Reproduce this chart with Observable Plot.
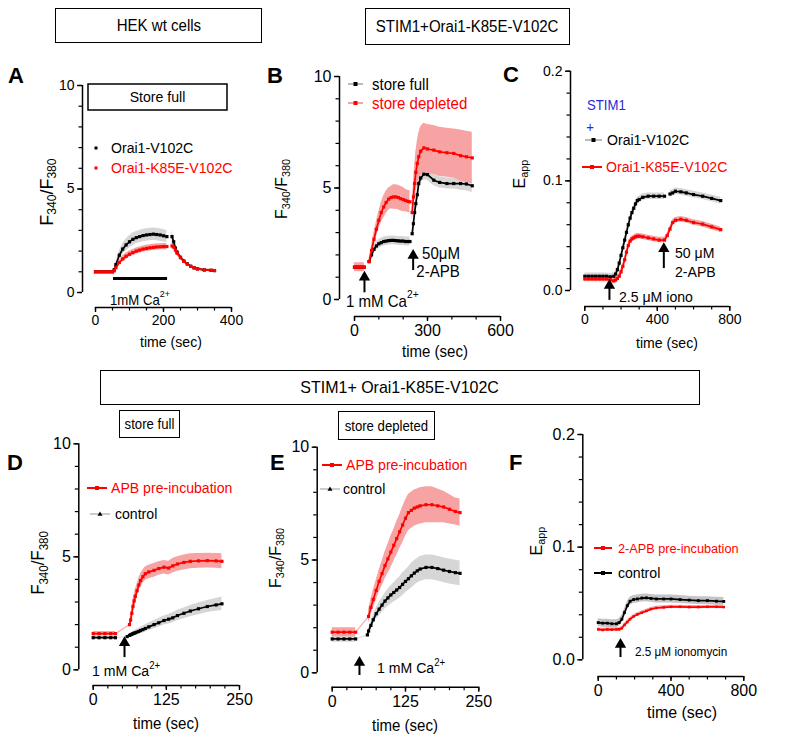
<!DOCTYPE html>
<html><head><meta charset="utf-8">
<script src="https://cdn.jsdelivr.net/npm/d3@7"></script>
<script src="https://cdn.jsdelivr.net/npm/@observablehq/plot@0.6"></script>
<style>
body{margin:0;background:#fff}
#page{position:relative;width:800px;height:743px;overflow:hidden;background:#fff}
#page svg{position:absolute;left:0;top:0}
.box{position:absolute;border:1.5px solid #000;box-sizing:border-box;display:flex;align-items:center;justify-content:center;background:#fff;font-family:'Liberation Sans',Arial,sans-serif;color:#000;white-space:nowrap}
</style></head>
<body><div id="page"></div>
<script>
// ================= DATA =================
// Panel A (HEK wt cells, store full): F340/F380 vs time (sec)
const aTime = [0,10,20,30,40,50,55,60,70,80,90,100,110,120,130,140,150,160,170,180,190,200,210,218,225,230,235,240,250,260,270,280,290,300,320,340,350];
const aV102C = [1.0,1.0,1.0,1.0,1.0,1.0,1.1,1.35,1.8,2.1,2.3,2.45,2.57,2.65,2.7,2.75,2.78,2.8,2.82,2.8,2.78,2.74,2.7,null,2.7,2.45,2.15,1.95,1.7,1.52,1.38,1.27,1.19,1.14,1.09,1.07,1.06];
const aV102CErr = [0.05,0.05,0.05,0.05,0.05,0.05,0.06,0.1,0.2,0.25,0.28,0.3,0.3,0.3,0.3,0.3,0.3,0.3,0.3,0.3,0.3,0.3,0.3,null,0.3,0.25,0.2,0.15,0.12,0.1,0.08,0.07,0.06,0.05,0.05,0.05,0.05];
const aK85E = [1.0,1.0,1.0,1.0,1.0,1.0,1.05,1.2,1.45,1.62,1.75,1.85,1.93,2.0,2.05,2.1,2.13,2.16,2.18,2.2,2.21,2.22,2.22,null,2.25,2.2,2.05,1.9,1.68,1.5,1.37,1.26,1.19,1.14,1.09,1.07,1.06];
const aK85EErr = [0.05,0.05,0.05,0.05,0.05,0.05,0.05,0.08,0.12,0.15,0.15,0.15,0.15,0.15,0.15,0.15,0.15,0.15,0.15,0.15,0.15,0.15,0.15,null,0.15,0.12,0.1,0.1,0.08,0.07,0.06,0.05,0.05,0.05,0.05,0.05,0.05];

// Panel B (STIM1+Orai1-K85E-V102C): store full vs store depleted
const bTime = [0,10,20,30,40,50,60,70,80,90,100,110,120,130,140,150,160,170,180,190,200,210,220,228,233,237,242,247,252,258,264,272,285,300,326,350,380,408,436,460,484];
const bFull = [1.45,1.45,1.45,1.45,1.45,null,1.7,2.0,2.25,2.4,2.5,2.55,2.6,2.62,2.64,2.65,2.65,2.64,2.63,2.62,2.62,2.6,2.6,2.6,null,2.95,3.4,3.9,4.3,4.7,5.2,5.45,5.62,5.6,5.35,5.25,5.2,5.2,5.2,5.18,5.1];
const bFullErr = [0.15,0.15,0.15,0.15,0.15,null,0.05,0.1,0.15,0.2,0.2,0.2,0.2,0.2,0.2,0.2,0.2,0.2,0.2,0.2,0.2,0.2,0.2,0.2,null,0.15,0.2,0.25,0.25,0.25,0.25,0.25,0.25,0.25,0.25,0.25,0.25,0.25,0.3,0.3,0.3];
const bDepleted = [1.45,1.45,1.45,1.45,1.45,null,1.7,2.2,2.7,3.15,3.55,3.9,4.15,4.35,4.5,4.57,4.6,4.6,4.57,4.52,4.48,4.44,4.4,4.38,null,3.9,4.6,5.2,5.7,6.1,6.4,6.65,6.8,6.75,6.7,6.62,6.58,6.55,6.45,6.4,6.35];
const bDepletedErr = [0.2,0.2,0.2,0.2,0.2,null,0.1,0.2,0.3,0.35,0.4,0.45,0.5,0.5,0.5,0.5,0.55,0.55,0.55,0.55,0.55,0.5,0.5,0.5,null,0.4,0.6,0.8,0.9,1.0,1.05,1.1,1.1,1.1,1.1,1.1,1.1,1.1,1.15,1.15,1.15];

// Panel C: Eapp vs time
const cTime = [0,20,40,60,80,100,120,140,160,170,180,190,200,210,220,230,240,250,260,270,280,290,300,320,350,380,410,440,455,470,485,500,530,560,600,650,700,750];
const cV102C = [0.013,0.013,0.013,0.013,0.013,0.013,0.013,0.0125,0.013,0.015,0.019,0.025,0.032,0.039,0.046,0.053,0.06,0.066,0.071,0.075,0.079,0.082,0.083,0.085,0.086,0.086,0.086,0.086,null,0.088,0.089,0.0905,0.09,0.089,0.0875,0.086,0.084,0.082];
const cV102CErr = [0.003,0.003,0.003,0.003,0.003,0.003,0.003,0.003,0.003,0.003,0.003,0.003,0.003,0.003,0.003,0.003,0.003,0.003,0.003,0.003,0.003,0.003,0.003,0.003,0.003,0.003,0.003,0.003,null,0.003,0.003,0.003,0.003,0.003,0.003,0.003,0.003,0.003];
const cK85E = [0.0105,0.0105,0.0105,0.0105,0.0105,0.0105,0.0105,0.0098,0.0088,0.0095,0.011,0.013,0.017,0.022,0.028,0.035,0.041,0.045,0.047,0.048,0.049,0.0495,0.0495,0.049,0.048,0.047,0.046,0.046,0.05,0.056,0.062,0.064,0.065,0.064,0.062,0.0605,0.058,0.0555];
const cK85EErr = [0.0025,0.0025,0.0025,0.0025,0.0025,0.0025,0.0025,0.0025,0.0025,0.0025,0.0025,0.0025,0.0025,0.0025,0.0025,0.0025,0.0025,0.0025,0.0025,0.0025,0.0025,0.0025,0.0025,0.0025,0.0025,0.0025,0.0025,0.0025,0.0025,0.0025,0.0025,0.0025,0.0025,0.0025,0.0025,0.0025,0.0025,0.0025];

// Panel D (store full): APB pre-incubation vs control
const dTime = [0,10,20,30,38,48,58,62,64,66,68,70,72,75,78,81,85,89,95,104,112,121,129,136,144,155,166,180,195,210,220];
const dAPB = [1.6,1.6,1.6,1.6,1.6,null,null,2.0,2.2,2.5,2.8,3.05,3.25,3.5,3.75,3.95,4.12,4.25,4.33,4.4,4.48,4.54,4.5,4.6,4.68,4.75,4.8,4.82,4.83,4.82,4.8];
const dAPBErr = [0.1,0.1,0.1,0.1,0.1,null,null,0.15,0.2,0.25,0.3,0.3,0.3,0.3,0.3,0.3,0.3,0.3,0.3,0.3,0.3,0.3,0.3,0.32,0.32,0.33,0.33,0.33,0.33,0.33,0.33];
const dControl = [1.42,1.42,1.42,1.42,1.42,null,1.47,1.52,1.55,1.57,1.6,1.62,1.64,1.67,1.7,1.74,1.78,1.83,1.9,2.0,2.08,2.18,2.24,2.3,2.4,2.5,2.6,2.7,2.8,2.87,2.92];
const dControlErr = [0.05,0.05,0.05,0.05,0.05,null,0.05,0.06,0.07,0.08,0.09,0.1,0.11,0.12,0.13,0.14,0.15,0.16,0.17,0.18,0.19,0.2,0.21,0.22,0.23,0.24,0.25,0.26,0.27,0.28,0.3];

// Panel E (store depleted): APB pre-incubation vs control
const eTime = [0,10,20,30,40,45,55,60,62,66,70,75,80,85,90,95,100,105,110,115,120,125,130,135,140,145,150,160,170,180,190,200,210,218];
const eAPB = [1.8,1.8,1.8,1.8,1.8,null,null,null,2.5,2.9,3.25,3.65,4.05,4.4,4.75,5.05,5.35,5.65,5.95,6.25,6.55,6.85,7.1,7.2,7.3,7.35,7.4,7.45,7.45,7.4,7.35,7.25,7.15,7.1];
const eAPBErr = [0.2,0.2,0.2,0.2,0.2,null,null,null,0.3,0.35,0.4,0.45,0.5,0.55,0.6,0.65,0.7,0.7,0.75,0.75,0.8,0.8,0.8,0.8,0.8,0.8,0.8,0.8,0.8,0.75,0.7,0.65,0.6,0.6];
const eControl = [1.5,1.5,1.5,1.5,1.5,null,null,1.68,1.85,2.1,2.35,2.62,2.82,3.0,3.18,3.32,3.45,3.56,3.67,3.78,3.92,4.05,4.17,4.3,4.42,4.52,4.6,4.67,4.67,4.62,4.55,4.49,4.44,4.41];
const eControlErr = [0.15,0.15,0.15,0.15,0.15,null,null,0.1,0.12,0.15,0.2,0.25,0.3,0.32,0.35,0.38,0.4,0.42,0.45,0.47,0.5,0.5,0.52,0.55,0.55,0.55,0.55,0.55,0.55,0.55,0.55,0.55,0.55,0.55];

// Panel F: Eapp, 2-APB pre-incubation vs control
const fTime = [0,25,50,75,100,115,130,145,160,175,195,215,240,265,290,320,360,400,450,500,550,600,650,690];
const fControl = [0.033,0.0325,0.0325,0.032,0.032,0.033,0.036,0.042,0.048,0.052,0.0535,0.054,0.0548,0.055,0.0545,0.054,0.054,0.054,0.0535,0.053,0.0525,0.0525,0.052,0.0518];
const fControlErr = [0.0035,0.0035,0.0035,0.0035,0.0035,0.0035,0.0035,0.0035,0.0035,0.0035,0.0035,0.0035,0.0035,0.0035,0.0035,0.0035,0.0035,0.0035,0.0035,0.0035,0.0035,0.0035,0.0035,0.0035];
const fAPB = [0.027,0.0265,0.027,0.0268,0.027,0.027,0.028,0.031,0.0335,0.036,0.0385,0.0402,0.0418,0.0433,0.045,0.046,0.0465,0.047,0.047,0.0468,0.0468,0.047,0.047,0.0468];
const fAPBErr = [0.0015,0.0015,0.0015,0.0015,0.0015,0.0015,0.0015,0.0015,0.0015,0.0015,0.0015,0.0015,0.0015,0.0015,0.0015,0.0015,0.0015,0.0015,0.0015,0.0015,0.0015,0.0015,0.0015,0.0015];

// Tick values
const ratioMajor = [0,5,10], ratioMinor = [0,1,2,3,4,5,6,7,8,9,10];
const eMajor = [0,0.1,0.2], eMinor = [0,0.02,0.04,0.06,0.08,0.1,0.12,0.14,0.16,0.18,0.2];
const aXMajor = [0,200,400], aXMinor = [0,50,100,150,200,250,300,350,400];
const bXMajor = [0,300,600], bXMinor = [0,100,200,300,400,500,600];
const cXMajor = [0,400,800], cXMinor = [0,100,200,300,400,500,600,700,800];
const deXMajor = [0,125,250], deXMinor = [0,25,50,75,100,125,150,175,200,225,250];

// Stimulus arrows (time, from, to)
const bArrows = [{t:41,y1:0.3,y2:1.0},{t:241,y1:1.3,y2:1.97}];
const cArrows = [{t:136,y1:-0.009,y2:0.0046},{t:436,y1:0.02,y2:0.038}];
const dArrows = [{t:53.5,y1:0.54,y2:1.2}];
const eArrows = [{t:46.5,y1:-0.12,y2:0.46}];
const fArrows = [{t:122.5,y1:0.002,y2:0.0136}];
const aBar = [{x1:53,x2:212,y:0.68}];

// ================= DRAWING =================
const FONT = "'Liberation Sans',Arial,sans-serif";
const BOLD = "'Liberation Sans',Arial,sans-serif";
const SX = 0.94; // slight horizontal condensation like the reference lettering
const RED = "#ff0000", PINK = "#f7a3a3", GREY = "#d6d6d6", BLUE = "#2a2ad0";
const page = document.getElementById("page");

function rows(time, v, e) {
  return time.map((t, i) => {
    const ok = v[i] != null;
    return {t, v: ok ? v[i] : NaN, lo: ok ? v[i] - e[i] : NaN, hi: ok ? v[i] + e[i] : NaN};
  });
}

function rich(svg, x, y, parts, o = {}) {
  const size = o.size || 15;
  const sx = o.sx ?? SX;
  const t = d3.select(svg).append("text").attr("x", x).attr("y", y)
    .attr("font-size", size).attr("fill", o.color || "#000")
    .attr("text-anchor", o.anchor || "start").attr("dominant-baseline", "central")
    .attr("font-family", o.font || FONT).attr("font-weight", o.weight || "normal");
  const tr = o.rotate
    ? `translate(${x},${y}) rotate(${o.rotate}) scale(${sx},1) translate(${-x},${-y})`
    : `translate(${x},${y}) scale(${sx},1) translate(${-x},${-y})`;
  t.attr("transform", tr);
  let shift = 0;
  for (const p of parts) {
    const [s, kind] = Array.isArray(p) ? p : [p, null];
    const target = kind === "sup" ? -0.42 : kind === "sub" ? 0.3 : 0;
    const sp = t.append("tspan").text(s);
    if (kind) sp.attr("font-size", size * 0.68);
    const dy = (target - shift) * size;
    if (dy) sp.attr("dy", dy);
    shift = target;
  }
  return t;
}

function legendItem(svg, o) {
  const g = d3.select(svg);
  if (o.line) g.append("line").attr("x1", o.x1).attr("x2", o.x2).attr("y1", o.y).attr("y2", o.y)
    .attr("stroke", o.line).attr("stroke-width", 2);
  const cx = (o.x1 + o.x2) / 2;
  if (o.mark === "tri") {
    g.append("path").attr("d", `M${cx},${o.y-2.5}L${cx+2.5},${o.y+1.8}L${cx-2.5},${o.y+1.8}Z`).attr("fill", o.color);
  } else {
    g.append("rect").attr("x", cx - 2).attr("y", o.y - 2).attr("width", 4).attr("height", 4).attr("fill", o.color);
  }
  rich(svg, o.tx, o.y, [o.label], {size: o.size || 15, color: o.text || o.color});
}

function panel(c) {
  const marks = [];
  c.series.forEach(s => marks.push(Plot.areaY(s.rows, {x: "t", y1: "lo", y2: "hi", fill: s.band})));
  c.series.forEach(s => {
    if (s.connector) marks.push(Plot.line(s.rows.filter(d => !isNaN(d.v)), {x: "t", y: "v", stroke: s.connector, strokeWidth: 1.3}));
    marks.push(Plot.line(s.rows, {x: "t", y: "v", stroke: s.color, strokeWidth: s.lw || 1.7}));
    marks.push(Plot.dot(s.rows, {x: "t", y: "v", fill: s.color, r: s.r || 1.8, symbol: s.symbol || "square"}));
  });
  const fs = c.tickFont || 15;
  marks.push(
    Plot.axisY({ticks: c.yMajor, tickSize: 5, tickPadding: 3, tickFormat: c.yFmt || (d => d), fontSize: fs, label: null, strokeWidth: 1.4}),
    Plot.axisY({ticks: c.yMinor, tickSize: 3.5, tickFormat: () => "", label: null, strokeWidth: 1.2}),
    Plot.axisX({ticks: c.xMajor, tickSize: 5, tickPadding: 3, tickFormat: d => d, fontSize: fs, label: null, strokeWidth: 1.4}),
    Plot.axisX({ticks: c.xMinor, tickSize: 3.5, tickFormat: () => "", label: null, strokeWidth: 1.2}),
    Plot.ruleX([c.xDomain[0]], {y1: c.yDomain[0], y2: c.yDomain[1], dx: c.ax - c.x0, strokeWidth: 1.5}),
    Plot.ruleY([c.yDomain[0]], {x1: c.xDomain[0], x2: c.xDomain[1], dy: c.xAxisY - c.y0, strokeWidth: 1.5})
  );
  for (const a of c.arrows || []) {
    marks.push(Plot.ruleX([a], {x: "t", y1: "y1", y2: "y2", strokeWidth: 2, stroke: "#000"}));
    marks.push(Plot.dot([a], {x: "t", y: "y2", symbol: "triangle", r: 4.2, fill: "#000"}));
  }
  if (c.extra) marks.push(...c.extra);
  const svg = Plot.plot({
    width: 800, height: 743,
    marginLeft: c.ax, marginRight: 800 - c.x1, marginTop: c.yTop, marginBottom: 743 - c.xAxisY,
    x: {domain: c.xDomain, range: [c.x0, c.x1]},
    y: {domain: c.yDomain, range: [c.y0, c.yTop]},
    style: {background: "transparent", fontFamily: FONT, color: "#000", overflow: "visible"},
    marks
  });
  page.appendChild(svg);
  return svg;
}

const fmt1 = d => d3.format(".1f")(d);

// ---- Panel A ----
const svgA = panel({
  ax: 82, x0: 95, x1: 231, yTop: 85, y0: 292, xAxisY: 307,
  xDomain: [0, 400], yDomain: [0, 10], xMajor: aXMajor, xMinor: aXMinor, yMajor: ratioMajor, yMinor: ratioMinor, tickFont: 14,
  series: [
    {rows: rows(aTime, aV102C, aV102CErr), color: "#000", band: GREY},
    {rows: rows(aTime, aK85E, aK85EErr), color: RED, band: PINK}
  ],
  extra: [Plot.ruleY(aBar, {y: "y", x1: "x1", x2: "x2", strokeWidth: 3, stroke: "#000"})]
});
d3.select(svgA).append("rect").attr("x", 88).attr("y", 84).attr("width", 139).attr("height", 26).attr("fill", "#fff").attr("stroke", "#000").attr("stroke-width", 1.5);
rich(svgA, 157.5, 97, ["Store full"], {size: 15, anchor: "middle"});
d3.select(svgA).append("rect").attr("x", 94.5).attr("y", 146.5).attr("width", 3).attr("height", 3).attr("fill", "#000");
rich(svgA, 111, 148, ["Orai1-V102C"], {size: 15});
d3.select(svgA).append("rect").attr("x", 94.5).attr("y", 166.5).attr("width", 3).attr("height", 3).attr("fill", RED);
rich(svgA, 111, 168, ["Orai1-K85E-V102C"], {size: 15, color: RED});
rich(svgA, 140, 300, ["1mM Ca", ["2+", "sup"]], {size: 14, anchor: "middle"});
rich(svgA, 46, 192, ["F", ["340", "sub"], "/F", ["380", "sub"]], {size: 19, anchor: "middle", rotate: -90});
rich(svgA, 171, 342, ["time (sec)"], {size: 15, anchor: "middle"});
rich(svgA, 8, 75, ["A"], {size: 22, weight: "bold", font: BOLD, sx: 1});

// ---- Panel B ----
const svgB = panel({
  ax: 339, x0: 354, x1: 500, yTop: 76, y0: 299, xAxisY: 316,
  xDomain: [0, 600], yDomain: [0, 10], xMajor: bXMajor, xMinor: bXMinor, yMajor: ratioMajor, yMinor: ratioMinor, tickFont: 16,
  series: [
    {rows: rows(bTime, bFull, bFullErr), color: "#000", band: GREY},
    {rows: rows(bTime, bDepleted, bDepletedErr), color: RED, band: PINK}
  ],
  arrows: bArrows
});
legendItem(svgB, {x1: 348, x2: 363, y: 84, line: "#bbb", color: "#000", label: "store full", tx: 372, size: 16});
legendItem(svgB, {x1: 348, x2: 363, y: 103, line: PINK, color: RED, label: "store depleted", tx: 372, size: 16});
rich(svgB, 346, 301, ["1 mM Ca", ["2+", "sup"]], {size: 16});
rich(svgB, 441, 253, ["50\u03bcM"], {size: 16, anchor: "middle"});
rich(svgB, 438, 271, ["2-APB"], {size: 16, anchor: "middle"});
rich(svgB, 281, 189, ["F", ["340", "sub"], "/F", ["380", "sub"]], {size: 17, anchor: "middle", rotate: -90});
rich(svgB, 435, 351, ["time (sec)"], {size: 16, anchor: "middle"});
rich(svgB, 267, 75, ["B"], {size: 22, weight: "bold", font: BOLD, sx: 1});

// ---- Panel C ----
const svgC = panel({
  ax: 570, x0: 584.3, x1: 729.3, yTop: 70.7, y0: 290, xAxisY: 306,
  xDomain: [0, 800], yDomain: [0, 0.2], xMajor: cXMajor, xMinor: cXMinor, yMajor: eMajor, yMinor: eMinor, yFmt: fmt1, tickFont: 14,
  series: [
    {rows: rows(cTime, cV102C, cV102CErr), color: "#000", band: GREY},
    {rows: rows(cTime, cK85E, cK85EErr), color: RED, band: PINK}
  ],
  arrows: cArrows
});
rich(svgC, 587, 105, ["STIM1"], {size: 14, color: BLUE});
rich(svgC, 590, 127, ["+"], {size: 14, color: BLUE, anchor: "middle"});
legendItem(svgC, {x1: 585, x2: 602, y: 140, line: "#bbb", color: "#000", label: "Orai1-V102C", tx: 607, size: 15});
legendItem(svgC, {x1: 582, x2: 602, y: 167, line: RED, color: RED, label: "Orai1-K85E-V102C", tx: 606, size: 15});
rich(svgC, 619, 297, ["2.5 \u03bcM iono"], {size: 15});
rich(svgC, 675, 253, ["50 \u03bcM"], {size: 15});
rich(svgC, 675, 272, ["2-APB"], {size: 15});
rich(svgC, 519, 174, ["E", ["app", "sub"]], {size: 17, anchor: "middle", rotate: -90});
rich(svgC, 667, 343, ["time (sec)"], {size: 15, anchor: "middle"});
rich(svgC, 503, 74, ["C"], {size: 22, weight: "bold", font: BOLD, sx: 1});

// ---- Panel D ----
const svgD = panel({
  ax: 78.3, x0: 92.7, x1: 239, yTop: 443.3, y0: 669.3, xAxisY: 685,
  xDomain: [0, 250], yDomain: [0, 10], xMajor: deXMajor, xMinor: deXMinor, yMajor: ratioMajor, yMinor: ratioMinor, tickFont: 16,
  series: [
    {rows: rows(dTime, dControl, dControlErr), color: "#000", band: GREY, connector: "#e0e0e0"},
    {rows: rows(dTime, dAPB, dAPBErr), color: RED, band: PINK, connector: "#f6b3b3"}
  ],
  arrows: dArrows
});
legendItem(svgD, {x1: 87, x2: 107, y: 488, line: RED, color: RED, label: "APB pre-incubation", tx: 111, size: 15});
legendItem(svgD, {x1: 90, x2: 110, y: 514, line: "#ccc", color: "#000", mark: "tri", label: "control", tx: 115, size: 15});
rich(svgD, 92, 671, ["1 mM Ca", ["2+", "sup"]], {size: 15});
rich(svgD, 38, 563, ["F", ["340", "sub"], "/F", ["380", "sub"]], {size: 18, anchor: "middle", rotate: -90});
rich(svgD, 166, 723, ["time (sec)"], {size: 16, anchor: "middle"});
rich(svgD, 7, 462, ["D"], {size: 22, weight: "bold", font: BOLD, sx: 1});

// ---- Panel E ----
const svgE = panel({
  ax: 316.7, x0: 331.7, x1: 478.3, yTop: 446.7, y0: 672.3, xAxisY: 686.7,
  xDomain: [0, 250], yDomain: [0, 10], xMajor: deXMajor, xMinor: deXMinor, yMajor: ratioMajor, yMinor: ratioMinor, tickFont: 16,
  series: [
    {rows: rows(eTime, eControl, eControlErr), color: "#000", band: GREY, connector: "#e0e0e0"},
    {rows: rows(eTime, eAPB, eAPBErr), color: RED, band: PINK, connector: "#f6b3b3"}
  ],
  arrows: eArrows
});
legendItem(svgE, {x1: 322, x2: 342, y: 465, line: RED, color: RED, label: "APB pre-incubation", tx: 346, size: 15});
legendItem(svgE, {x1: 320, x2: 340, y: 489, line: "#ccc", color: "#000", mark: "tri", label: "control", tx: 343, size: 15});
rich(svgE, 377, 668, ["1 mM Ca", ["2+", "sup"]], {size: 15});
rich(svgE, 275, 558, ["F", ["340", "sub"], "/F", ["380", "sub"]], {size: 17, anchor: "middle", rotate: -90});
rich(svgE, 405, 725, ["time (sec)"], {size: 16, anchor: "middle"});
rich(svgE, 270, 462, ["E"], {size: 22, weight: "bold", font: BOLD, sx: 1});

// ---- Panel F ----
const svgF = panel({
  ax: 582.3, x0: 597.7, x1: 743.3, yTop: 434, y0: 659.3, xAxisY: 676,
  xDomain: [0, 800], yDomain: [0, 0.2], xMajor: cXMajor, xMinor: cXMinor, yMajor: eMajor, yMinor: eMinor, yFmt: fmt1, tickFont: 16,
  series: [
    {rows: rows(fTime, fControl, fControlErr), color: "#000", band: "#c4c4c4", r: 1.6},
    {rows: rows(fTime, fAPB, fAPBErr), color: RED, band: PINK, r: 1.4}
  ],
  arrows: fArrows
});
legendItem(svgF, {x1: 594, x2: 612, y: 548, line: RED, color: RED, label: "2-APB pre-incubation", tx: 618, size: 13.5});
legendItem(svgF, {x1: 594, x2: 612, y: 573, line: "#000", color: "#000", label: "control", tx: 618, size: 15});
rich(svgF, 635, 652, ["2.5 \u03bcM ionomycin"], {size: 12.5});
rich(svgF, 536, 541, ["E", ["app", "sub"]], {size: 17, anchor: "middle", rotate: -90});
rich(svgF, 682, 712, ["time (sec)"], {size: 17, anchor: "middle"});
rich(svgF, 509, 462, ["F"], {size: 22, weight: "bold", font: BOLD, sx: 1});

// ---- Header boxes ----
function box(x, y, w, h, text, size) {
  const d = document.createElement("div");
  d.className = "box";
  Object.assign(d.style, {left: x + "px", top: y + "px", width: w + "px", height: h + "px", fontSize: size + "px"});
  const s = document.createElement("span");
  s.textContent = text;
  s.style.display = "inline-block";
  s.style.transform = `scaleX(${SX})`;
  d.appendChild(s);
  page.appendChild(d);
}
box(55, 8, 207, 35, "HEK wt cells", 16);
box(365, 8, 205, 37, "STIM1+Orai1-K85E-V102C", 16);
box(100, 370, 600, 35, "STIM1+ Orai1-K85E-V102C", 17);
box(119, 410, 61, 28, "store full", 14);
box(338, 411, 97, 29, "store depleted", 14);
</script></body></html>
